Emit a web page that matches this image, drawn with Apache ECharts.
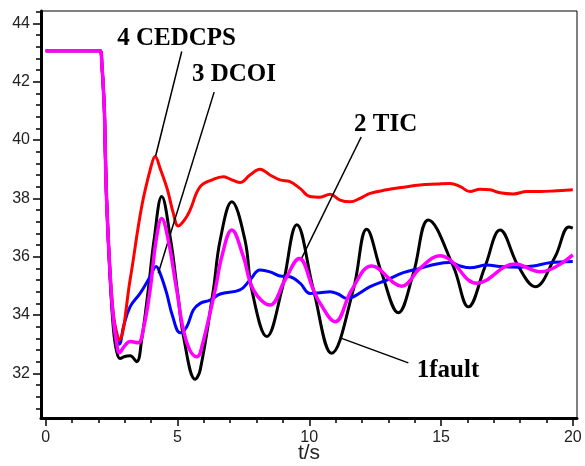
<!DOCTYPE html>
<html>
<head>
<meta charset="utf-8">
<script src="https://cdn.jsdelivr.net/npm/echarts@6/dist/echarts.min.js"></script>
<style>
html,body{margin:0;padding:0;background:#fff;}
#c{width:585px;height:466px;}
</style>
</head>
<body>
<div id="c"></div>
<script>
// ---- data (t in s, value) ----
const fault = [[0,43.06],[2.06,43.06],[2.13,42.57],[2.22,41.13],[2.25,40.0],[2.31,37.94],[2.44,35.3],[2.57,33.5],[2.69,32.75],[2.82,32.51],[3.0,32.58],[3.2,32.6],[3.45,32.4],[3.64,33.15],[3.89,34.86],[4.11,36.57],[4.4,38.06],[4.74,36.57],[4.99,34.86],[5.25,33.15],[5.67,31.8],[5.86,32.11],[6.36,34.86],[6.62,36.57],[7.06,37.88],[7.56,36.57],[7.82,34.86],[8.39,33.26],[8.96,34.86],[9.53,37.09],[10.16,34.86],[10.85,32.69],[11.67,34.86],[12.18,36.94],[12.75,35.43],[13.38,34.08],[13.95,35.43],[14.52,37.26],[15.47,35.66],[16.04,34.28],[16.67,35.66],[17.24,36.91],[17.94,35.66],[18.57,34.97],[19.33,36.0],[19.85,37.02],[20.0,36.98]];
const tic = [[0,43.06],[2.06,43.06],[2.13,42.57],[2.22,41.13],[2.25,40.0],[2.31,37.94],[2.44,35.4],[2.57,33.8],[2.69,33.15],[2.79,33.0],[2.95,33.6],[3.2,34.28],[3.58,34.74],[3.96,35.31],[4.19,35.66],[4.35,35.4],[4.59,34.74],[4.8,34.0],[5.1,33.39],[5.35,33.6],[5.6,34.17],[5.86,34.4],[6.24,34.51],[6.62,34.72],[7.37,34.86],[7.75,35.2],[8.13,35.54],[8.51,35.48],[8.89,35.34],[9.27,35.31],[9.65,35.09],[10.03,34.74],[10.41,34.76],[10.79,34.8],[11.1,34.72],[11.42,34.57],[11.67,34.62],[12.31,34.97],[12.94,35.2],[13.57,35.45],[14.2,35.6],[14.84,35.75],[15.34,35.8],[15.73,35.68],[16.1,35.62],[16.74,35.71],[17.24,35.66],[18.0,35.64],[18.5,35.68],[19.13,35.79],[20.0,35.83]];
const dcoi = [[0,43.06],[2.06,43.06],[2.13,42.57],[2.22,41.13],[2.25,40.0],[2.31,37.94],[2.44,35.44],[2.57,33.83],[2.69,33.05],[2.79,32.71],[3.0,32.95],[3.2,33.09],[3.51,33.05],[3.7,33.5],[3.96,34.86],[4.19,36.57],[4.4,37.31],[4.65,36.57],[4.97,34.86],[5.32,33.15],[5.73,32.57],[5.86,32.69],[6.43,34.86],[6.68,36.0],[7.06,36.91],[7.5,36.0],[7.88,34.86],[8.51,34.34],[9.08,35.2],[9.62,35.94],[10.16,34.86],[10.41,34.4],[10.98,33.77],[11.61,34.86],[12.37,35.68],[13.51,34.99],[14.2,35.6],[14.96,36.03],[15.34,35.89],[16.36,35.09],[17.81,35.75],[18.76,35.48],[20.0,36.06]];
const cedcps = [[0,43.06],[2.06,43.06],[2.13,42.57],[2.22,41.13],[2.25,40.0],[2.31,37.94],[2.44,35.5],[2.57,34.0],[2.69,33.4],[2.79,33.15],[3.2,35.2],[3.64,37.71],[4.0,39.1],[4.15,39.43],[4.35,39.0],[4.62,38.29],[4.84,37.49],[5.03,37.05],[5.3,37.3],[5.48,37.6],[5.86,38.4],[6.36,38.65],[6.74,38.74],[7.0,38.66],[7.37,38.54],[7.75,38.8],[8.13,39.0],[8.51,38.8],[8.89,38.63],[9.27,38.57],[9.65,38.34],[10.03,38.06],[10.41,38.04],[10.79,38.14],[11.17,37.94],[11.55,37.88],[11.93,38.0],[12.31,38.17],[12.94,38.29],[13.57,38.38],[14.2,38.46],[14.84,38.49],[15.34,38.51],[15.73,38.4],[16.1,38.23],[16.48,38.31],[16.86,38.29],[17.24,38.19],[17.75,38.15],[18.25,38.23],[18.76,38.23],[19.39,38.26],[20.0,38.29]];

// ---- ticks ----
const xMajor = [0,5,10,15,20];
const yMajor = [32,34,36,38,40,42,44];

// ---- annotations (data coords) ----
const annTexts = ['4 CEDCPS','3 DCOI','2 TIC','1fault'];
const annTextAt = [[2.71,43.48],[5.55,42.23],[11.70,40.53],[14.08,32.11]];
const annLines = [
  [[5.16,43.03],[4.17,39.45]],
  [[6.39,41.64],[4.27,35.43]],
  [[11.97,40.1],[9.68,35.89]],
  [[11.23,33.2],[13.76,32.36]]
];

const X_MIN = -0.18, X_MAX = 20.16, Y_MIN = 30.47, Y_MAX = 44.42;
const xMinor = [];
for (let i = 1; i < 20; i++) if (i % 5) xMinor.push(i);
const yMinor = [];
for (let k = 0; ; k++) {
  const v = Math.round((30.8 + 0.4 * k) * 10) / 10;
  if (v > Y_MAX) break;
  if (yMajor.indexOf(v) < 0) yMinor.push(v);
}

const labelFont = {fontSize:16, color:'#222', fontFamily:'Liberation Sans, Arial, sans-serif'};

const chart = echarts.init(document.getElementById('c'), null, {renderer:'canvas'});
const lineSeries = (name, data, color, w, z) => ({
  name, type:'line', data, xAxisIndex:0, yAxisIndex:0, symbol:'none', smooth:0.4,
  lineStyle:{color, width:w}, z
});

const s1 = lineSeries('1fault', fault, '#000000', 3, 2);
s1.markLine = {
  silent:true, symbol:['none','none'], label:{show:false},
  lineStyle:{color:'#000', width:1.5, type:'solid'},
  data: annLines.map(l => [{coord:l[0]},{coord:l[1]}])
};

chart.setOption({
  animation:false,
  backgroundColor:'#fff',
  grid:{left:41, right:8, top:11, bottom:48, outerBoundsMode:'none', containLabel:false,
        show:true, borderColor:'#000', borderWidth:1, backgroundColor:'transparent'},
  xAxis:[
    {type:'value', min:X_MIN, max:X_MAX, position:'bottom',
     axisLine:{show:true, onZero:false, lineStyle:{color:'#000', width:3}},
     axisTick:{show:true, length:8, customValues:xMajor, lineStyle:{color:'#000', width:1.5}},
     axisLabel:Object.assign({customValues:xMajor, margin:12}, labelFont),
     splitLine:{show:false},
     name:'t/s', nameLocation:'middle', nameGap:25, nameMoveOverlap:false,
     nameTextStyle:{fontSize:21, color:'#222', fontFamily:'Liberation Sans, Arial, sans-serif'}},
    {type:'value', min:X_MIN, max:X_MAX, position:'bottom', offset:0,
     axisLine:{show:false, onZero:false},
     axisTick:{show:true, length:5, customValues:xMinor, lineStyle:{color:'#000', width:1.5}},
     axisLabel:{show:false}, splitLine:{show:false}}
  ],
  yAxis:[
    {type:'value', min:Y_MIN, max:Y_MAX, position:'left',
     axisLine:{show:true, onZero:false, lineStyle:{color:'#000', width:3}},
     axisTick:{show:true, length:8, customValues:yMajor, lineStyle:{color:'#000', width:1.5}},
     axisLabel:Object.assign({customValues:yMajor, margin:11}, labelFont),
     splitLine:{show:false}},
    {type:'value', min:Y_MIN, max:Y_MAX, position:'left', offset:0,
     axisLine:{show:false, onZero:false},
     axisTick:{show:true, length:5, customValues:yMinor, lineStyle:{color:'#000', width:1.5}},
     axisLabel:{show:false}, splitLine:{show:false}}
  ],
  series:[
    s1,
    lineSeries('2 TIC', tic, '#0000ff', 3, 3),
    lineSeries('4 CEDCPS', cedcps, '#ff0000', 3, 4),
    lineSeries('3 DCOI', dcoi, '#ff00ff', 3.5, 5)
  ]
});

const g = annTexts.map((t, i) => {
  const p = chart.convertToPixel({xAxisIndex:0, yAxisIndex:0}, annTextAt[i]);
  return {type:'text', x:p[0], y:p[1], z:100,
    style:{text:t, fill:'#000', font:'bold 25px "Liberation Serif", "Times New Roman", serif',
           textAlign:'left', textVerticalAlign:'middle', verticalAlign:'middle'}};
});
chart.setOption({graphic:g});
</script>
</body>
</html>
